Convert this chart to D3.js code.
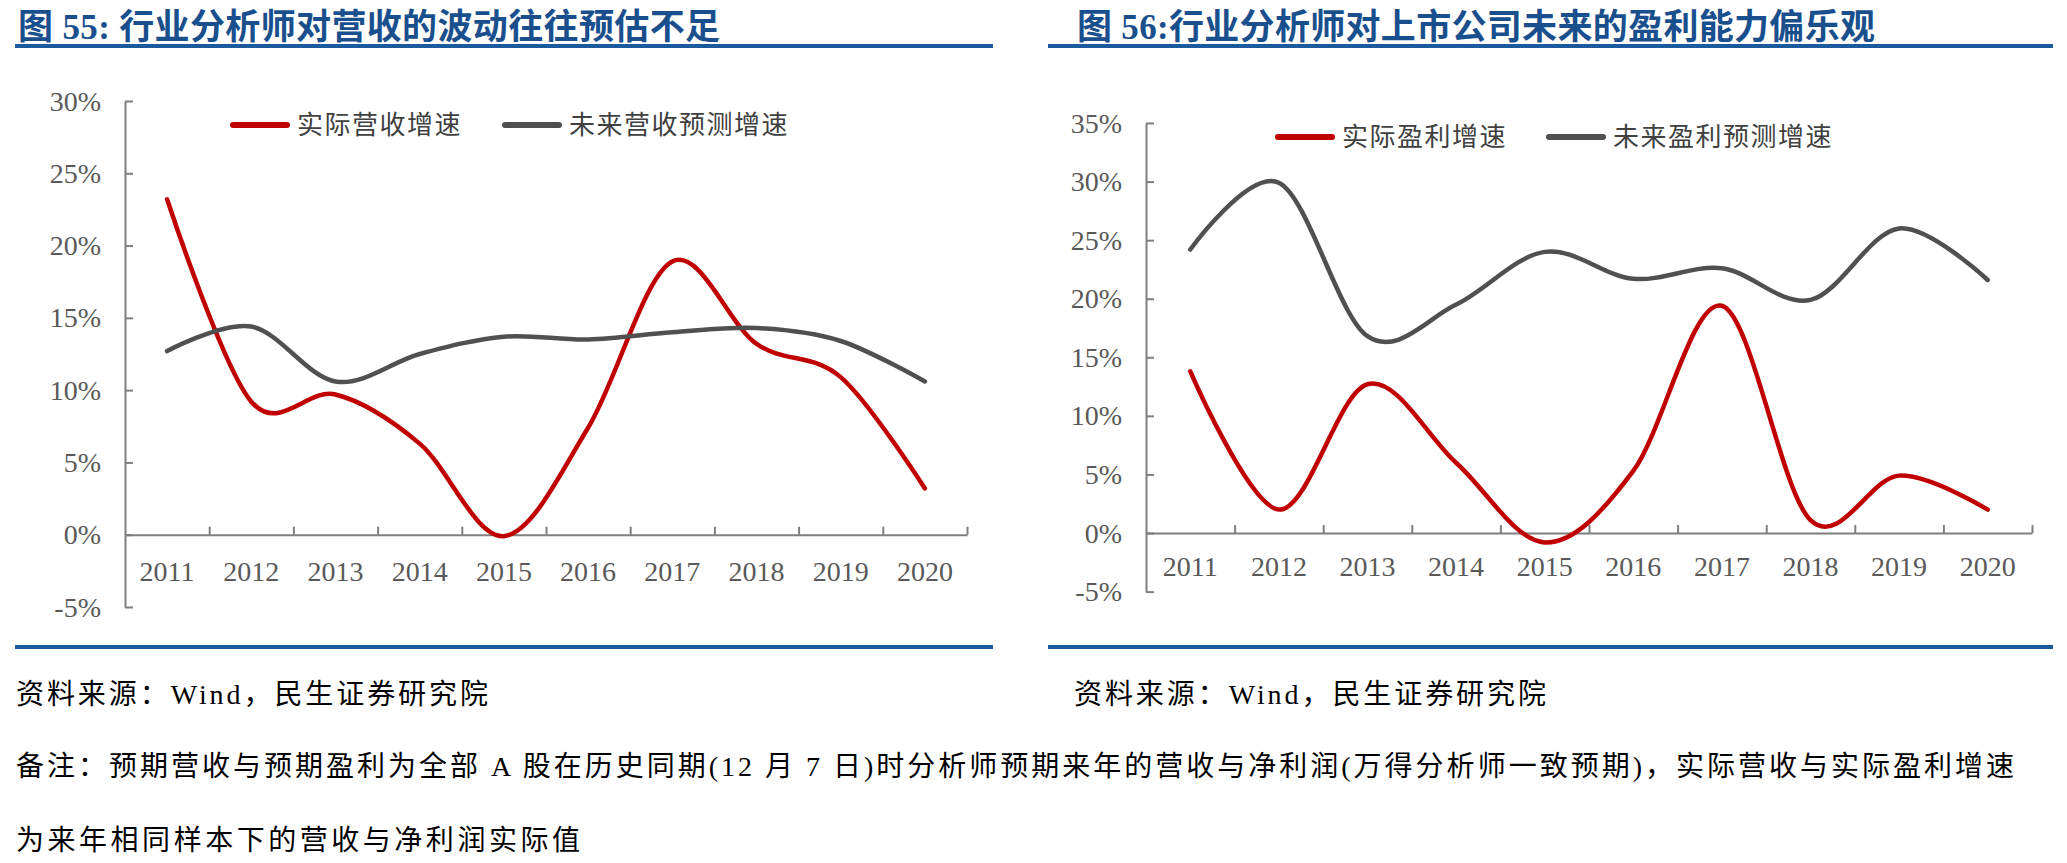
<!DOCTYPE html>
<html>
<head>
<meta charset="utf-8">
<script src="https://cdn.jsdelivr.net/npm/d3@7"></script>
<style>
  body { margin: 0; background: #fff; }
</style>
</head>
<body>
<svg id="chart" width="2067" height="863"></svg>
<script>
// 数据
const years = ["2011", "2012", "2013", "2014", "2015", "2016", "2017", "2018", "2019", "2020"];
const revActual   = [23.2, 9.2, 9.7, 6.3, -0.1, 7.4, 18.9, 13.2, 10.9, 3.2];
const revForecast = [12.7, 14.4, 10.6, 12.5, 13.7, 13.5, 14.0, 14.3, 13.4, 10.6];
const profitActual   = [13.8, 2.0, 12.7, 6.0, -0.8, 5.3, 19.4, 1.1, 4.9, 2.0];
const profitForecast = [24.2, 29.9, 16.8, 19.5, 24.0, 21.7, 22.6, 19.9, 26.0, 21.6];
const revTicks = [-5, 0, 5, 10, 15, 20, 25, 30];
const profitTicks = [-5, 0, 5, 10, 15, 20, 25, 30, 35];

const revNames = ["实际营收增速", "未来营收预测增速"];
const profitNames = ["实际盈利增速", "未来盈利预测增速"];
const titleLeft = "图 55: 行业分析师对营收的波动往往预估不足";
const titleRight = "图 56:行业分析师对上市公司未来的盈利能力偏乐观";
const sourceText = "资料来源：Wind，民生证券研究院";
const noteLines = [
  "备注：预期营收与预期盈利为全部 A 股在历史同期(12 月 7 日)时分析师预期来年的营收与净利润(万得分析师一致预期)，实际营收与实际盈利增速",
  "为来年相同样本下的营收与净利润实际值"
];

const serif = "'Liberation Serif', 'Times New Roman', 'Noto Sans CJK SC', serif";
const blue = "#1b5a9c";
const red = "#c00000";
const gray = "#505050";
const axisColor = "#7f7f7f";

const svg = d3.select("#chart");

function panel(o) {
  const g = svg.append("g");

  // 标题和分隔线
  g.append("text")
    .attr("x", o.titleX).attr("y", 27)
    .attr("dominant-baseline", "central")
    .attr("font-family", serif).attr("font-weight", "bold")
    .attr("font-size", 35).attr("fill", "#1a4f8e")
    .attr("textLength", o.titleLen).attr("lengthAdjust", "spacing")
    .text(o.title);
  [46, 647].forEach(yy => {
    g.append("line")
      .attr("x1", o.ruleX1).attr("x2", o.ruleX2)
      .attr("y1", yy).attr("y2", yy)
      .attr("stroke", blue).attr("stroke-width", 4);
  });

  const x = d3.scaleBand().domain(years).range([o.left, o.right]);
  const bw = x.bandwidth();
  const y = d3.scaleLinear().domain([o.ticks[0], o.ticks[o.ticks.length - 1]]).range([o.bottom, o.top]);

  // y 轴
  const ya = g.append("g")
    .attr("transform", `translate(${o.left},0)`)
    .call(d3.axisRight(y).tickValues(o.ticks).tickSize(8).tickSizeOuter(0).tickFormat(""));
  ya.selectAll("path, line").attr("stroke", axisColor).attr("stroke-width", 2);

  g.selectAll(".ylab").data(o.ticks).enter().append("text")
    .attr("x", o.left - 24).attr("y", d => y(d))
    .attr("text-anchor", "end").attr("dominant-baseline", "central")
    .attr("font-family", serif).attr("font-size", 28).attr("fill", "#595959")
    .text(d => d + "%");

  // x 轴（0 线）
  const xi = d3.scaleLinear().domain([0, years.length]).range([o.left, o.right]);
  const xa = g.append("g")
    .attr("transform", `translate(0,${y(0)})`)
    .call(d3.axisTop(xi).tickValues(d3.range(1, years.length + 1)).tickSize(8).tickSizeOuter(0).tickFormat(""));
  xa.selectAll("path, line").attr("stroke", axisColor).attr("stroke-width", 2);

  g.selectAll(".xlab").data(years).enter().append("text")
    .attr("x", d => x(d) + bw / 2).attr("y", y(0) + o.labelGap)
    .attr("text-anchor", "middle").attr("dominant-baseline", "central")
    .attr("font-family", serif).attr("font-size", 28).attr("fill", "#595959")
    .text(d => d);

  // 平滑折线
  const line = d3.line()
    .x((d, i) => x(years[i]) + bw / 2)
    .y(d => y(d))
    .curve(d3.curveCatmullRom.alpha(0));

  [[o.actual, red], [o.forecast, gray]].forEach(([vals, c]) => {
    g.append("path").datum(vals)
      .attr("d", line).attr("fill", "none")
      .attr("stroke", c).attr("stroke-width", 4.5)
      .attr("stroke-linecap", "round").attr("stroke-linejoin", "round");
  });

  // 图例
  o.legend.forEach((lg, i) => {
    g.append("line")
      .attr("x1", lg.x).attr("x2", lg.x + 54)
      .attr("y1", o.legendY).attr("y2", o.legendY)
      .attr("stroke", i === 0 ? red : gray).attr("stroke-width", 6)
      .attr("stroke-linecap", "round");
    g.append("text")
      .attr("x", lg.x + 64).attr("y", o.legendY)
      .attr("dominant-baseline", "central")
      .attr("font-family", serif).attr("font-size", 26).attr("fill", "#404040")
      .attr("letter-spacing", 1.5)
      .text(o.names[i]);
  });

  // 资料来源
  g.append("text")
    .attr("x", o.sourceX).attr("y", 694)
    .attr("dominant-baseline", "central")
    .attr("font-family", serif).attr("font-size", 28).attr("fill", "#000")
    .attr("textLength", 472).attr("lengthAdjust", "spacing")
    .text(sourceText);
}

panel({
  title: titleLeft, titleX: 18, titleLen: 702, ruleX1: 15, ruleX2: 993,
  left: 125, right: 967, top: 101, bottom: 607, labelGap: 37,
  ticks: revTicks, actual: revActual, forecast: revForecast,
  names: revNames, legendY: 125, legend: [{ x: 233 }, { x: 505 }],
  sourceX: 16
});

panel({
  title: titleRight, titleX: 1077, titleLen: 798, ruleX1: 1048, ruleX2: 2053,
  left: 1146, right: 2032, top: 123, bottom: 591.6, labelGap: 33,
  ticks: profitTicks, actual: profitActual, forecast: profitForecast,
  names: profitNames, legendY: 137, legend: [{ x: 1278 }, { x: 1549 }],
  sourceX: 1074
});

// 备注
svg.selectAll(".note").data(noteLines).enter().append("text")
  .attr("x", 16).attr("y", (d, i) => 766 + i * 74)
  .attr("dominant-baseline", "central")
  .attr("font-family", serif).attr("font-size", 28).attr("fill", "#000")
  .attr("textLength", (d, i) => i === 0 ? 1998 : 564).attr("lengthAdjust", "spacing")
  .text(d => d);
</script>
</body>
</html>
